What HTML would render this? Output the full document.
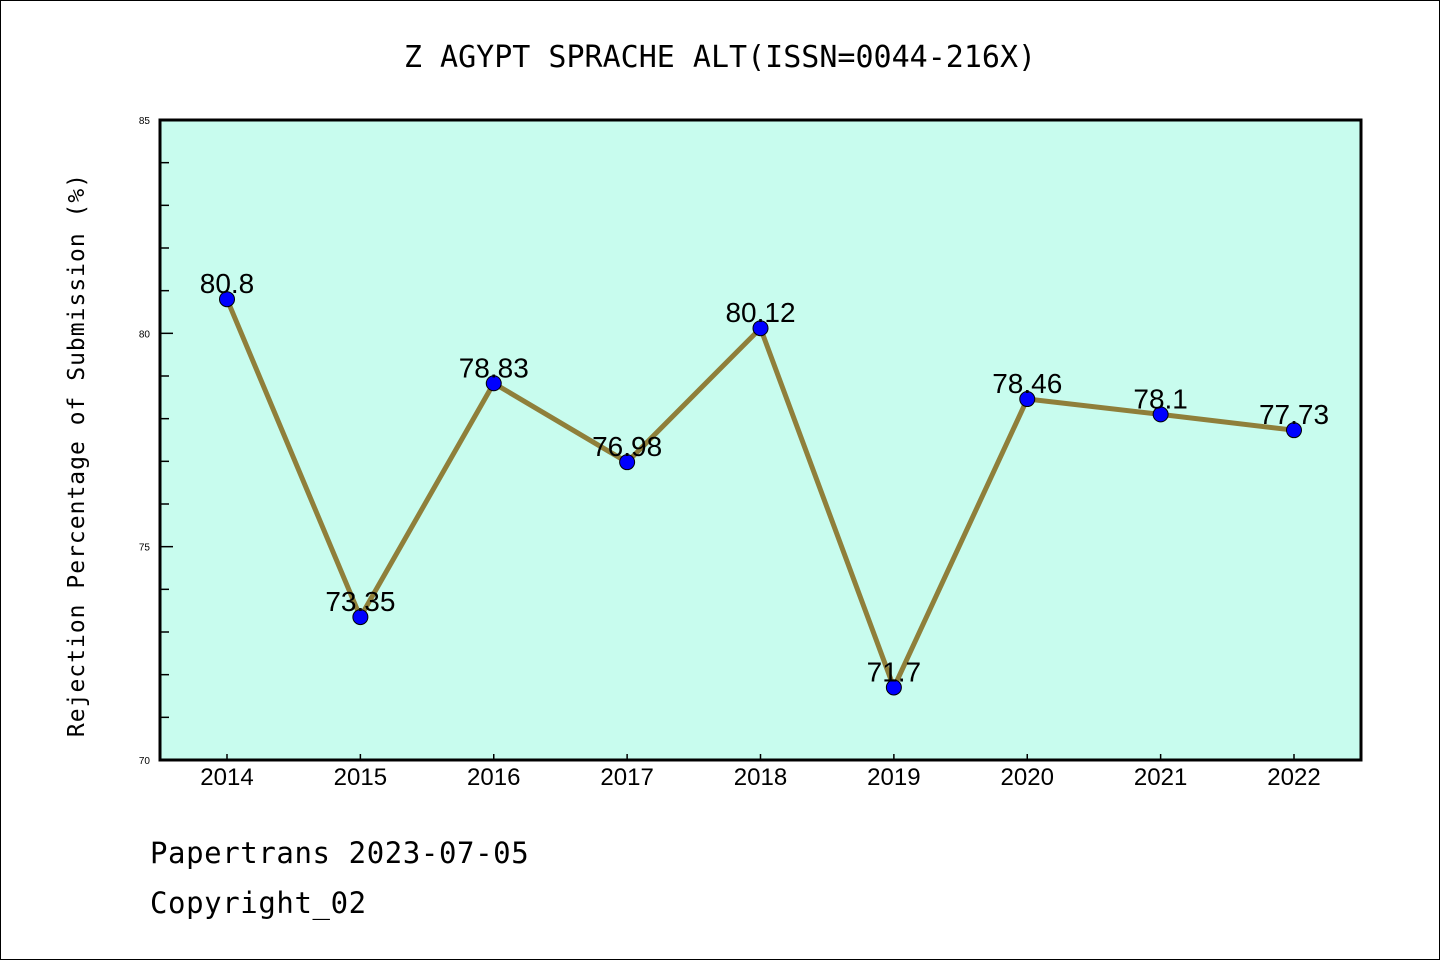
<!DOCTYPE html>
<html><head><meta charset="utf-8"><style>
body{margin:0;background:#fff}
svg{display:block;font-family:"Liberation Sans","WenQuanYi Zen Hei",sans-serif}
</style></head><body>
<svg id="c" width="1440" height="960">
<rect x="0.5" y="0.5" width="1439" height="959" fill="#fff" stroke="#000"/>
<text x="720" y="67" text-anchor="middle" font-size="30" font-family="WenQuanYi Zen Hei, monospace">Z AGYPT SPRACHE ALT(ISSN=0044-216X)</text>
<rect x="160" y="120" width="1201" height="640" fill="#c8fcee"/>
<g id="ax"></g>
<rect x="160" y="120" width="1201" height="640" fill="none" stroke="#000" stroke-width="3"/>
<text transform="translate(84,455) rotate(-90)" text-anchor="middle" font-size="23" font-family="WenQuanYi Zen Hei, monospace" letter-spacing="1">Rejection Percentage of Submission (%)</text>
<text x="150" y="863" font-size="29" font-family="WenQuanYi Zen Hei, monospace" letter-spacing="0.6">Papertrans 2023-07-05</text>
<text x="150" y="913" font-size="29" font-family="WenQuanYi Zen Hei, monospace" letter-spacing="0.6">Copyright_02</text>
</svg>
<script>
const years=["2014","2015","2016","2017","2018","2019","2020","2021","2022"];
const values=[80.8,73.35,78.83,76.98,80.12,71.7,78.46,78.1,77.73];
const labels=["80.8","73.35","78.83","76.98","80.12","71.7","78.46","78.1","77.73"];
const yTicks=[70,75,80,85];
const NS="http://www.w3.org/2000/svg";
const g=document.getElementById('ax');
const X=i=>227+i*(1294-227)/8;
const Y=v=>760-(v-70)*(640/15);
const WQ="WenQuanYi Zen Hei, sans-serif";
function mk(t,a,txt){const e=document.createElementNS(NS,t);for(const k in a)e.setAttribute(k,a[k]);if(txt!=null)e.textContent=txt;g.appendChild(e);return e;}
for(let v=70;v<=85;v++){
 const major=yTicks.includes(v);
 const t=mk('line',{x1:160,x2:major?173:169,y1:Y(v),y2:Y(v),stroke:'#000','stroke-width':1.5});
 
 
}
yTicks.forEach(v=>{
 const t=mk('text',{x:150,y:Y(v)+4,'text-anchor':'end','font-size':10},String(v));
 
 
});
years.forEach((y,i)=>{
 const t=mk('line',{x1:X(i),x2:X(i),y1:760,y2:754,stroke:'#000','stroke-width':1.5});
 
 
 const l=mk('text',{x:X(i),y:785,'text-anchor':'middle','font-size':24,'font-family':WQ},y);
 
 
});
const pl=mk('polyline',{points:values.map((v,i)=>X(i)+','+Y(v)).join(' '),fill:'none',stroke:'#8f7f3a','stroke-width':5,'stroke-linejoin':'round'});


values.forEach((v,i)=>{
 const c=mk('circle',{cx:X(i),cy:Y(v),r:7.5,fill:'#0000ff',stroke:'#000','stroke-width':1});
 
 
 const t=mk('text',{x:X(i),y:Y(v)-6,'text-anchor':'middle','font-size':28,'font-family':WQ},labels[i]);
 
 
});
</script>
</body></html>
